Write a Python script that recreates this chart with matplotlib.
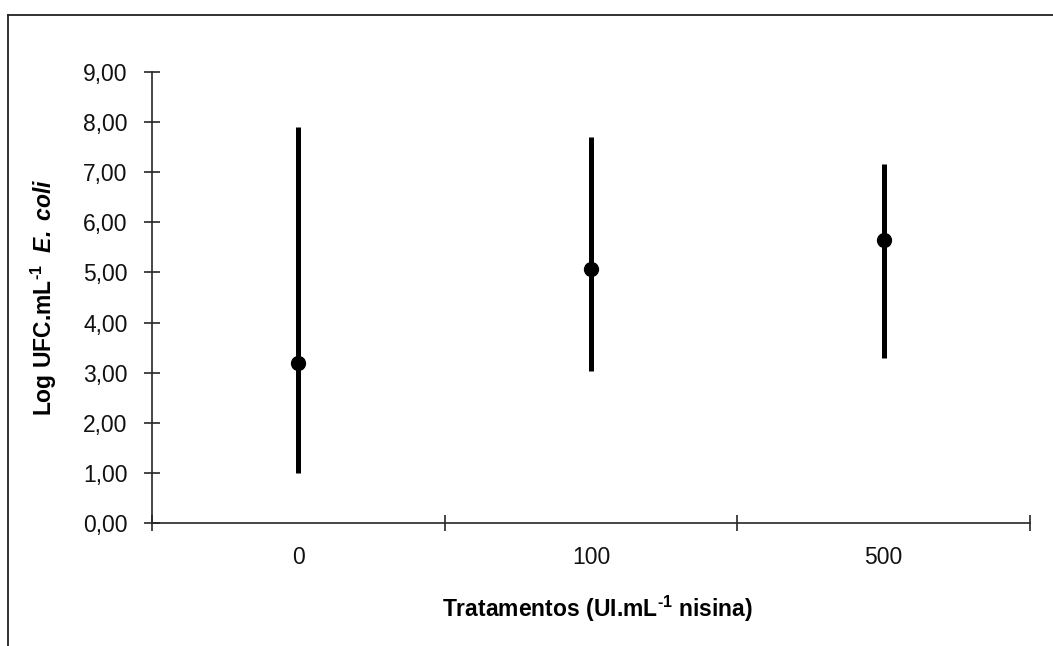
import matplotlib
matplotlib.use("Agg")
import matplotlib.pyplot as plt
from matplotlib.lines import Line2D

# Data
categories = ["0", "100", "500"]
means = [3.19, 5.07, 5.64]
lows = [1.00, 3.03, 3.30]
highs = [7.91, 7.71, 7.16]
yticks = [0, 1, 2, 3, 4, 5, 6, 7, 8, 9]
ytick_labels = [f"{v:.2f}".replace(".", ",") for v in yticks]

plt.rcParams['font.family'] = ['Liberation Sans', 'DejaVu Sans']
plt.rcParams['mathtext.fontset'] = 'custom'
plt.rcParams['mathtext.rm'] = 'Liberation Sans:bold'
plt.rcParams['mathtext.bf'] = 'Liberation Sans:bold'
plt.rcParams['mathtext.it'] = 'Liberation Sans:italic'
plt.rcParams['mathtext.bfit'] = 'Liberation Sans:bold:italic'

W, H = 1053, 646
fig = plt.figure(figsize=(W / 100, H / 100), dpi=100)
fig.patch.set_facecolor('white')

ax = fig.add_axes([152 / W, 1 - 523 / H, (1030 - 152) / W, (523 - 72) / H])

x = list(range(len(categories)))
err_low = [m - l for m, l in zip(means, lows)]
err_high = [h - m for m, h in zip(means, highs)]
ax.errorbar(x, means, yerr=[err_low, err_high], fmt='o', color='black',
            ecolor='black', elinewidth=3.6, capsize=0, markersize=10,
            zorder=3)

ax.set_xlim(-0.5, len(categories) - 0.5)
ax.set_ylim(0, 9)
ax.set_yticks(yticks)
ax.set_yticklabels(ytick_labels)

# major x ticks at category boundaries, labels at category centres
ax.set_xticks([i - 0.5 for i in range(len(categories) + 1)])
ax.set_xticklabels([])
ax.set_xticks(x, minor=True)
ax.set_xticklabels(categories, minor=True)

axis_color = '#262626'
for s in ['top', 'right']:
    ax.spines[s].set_visible(False)
for s in ['left', 'bottom']:
    ax.spines[s].set_color(axis_color)
    ax.spines[s].set_linewidth(1.2)

fs = 16.5
ax.tick_params(axis='y', which='major', direction='inout', length=11,
               width=1.2, color=axis_color, labelsize=fs, pad=12,
               labelcolor='#111111')
ax.tick_params(axis='x', which='major', direction='inout', length=11.5,
               width=1.2, color=axis_color)
ax.tick_params(axis='x', which='minor', length=0, labelsize=fs, pad=16.5,
               labelcolor='#111111')

ax.set_xlabel(r'Tratamentos (UI.mL$^{\text{-1}}$ nisina)', fontsize=fs,
              fontweight='bold')
ax.xaxis.set_label_coords(0.507, -0.158)
ax.set_ylabel(r'Log UFC.mL$^{\text{-1}}$  $\mathbfit{E.\ coli}$', fontsize=fs,
              fontweight='bold')
ax.yaxis.set_label_coords(-0.106, 0.5)

# outer frame (top and left edges)
fig.add_artist(Line2D([8 / W, 1.0], [1 - 15 / H, 1 - 15 / H],
                      transform=fig.transFigure, color='#222222', lw=1.3))
fig.add_artist(Line2D([8 / W, 8 / W], [0.0, 1 - 15 / H],
                      transform=fig.transFigure, color='#222222', lw=1.3))

fig.savefig('out.png', dpi=100)
